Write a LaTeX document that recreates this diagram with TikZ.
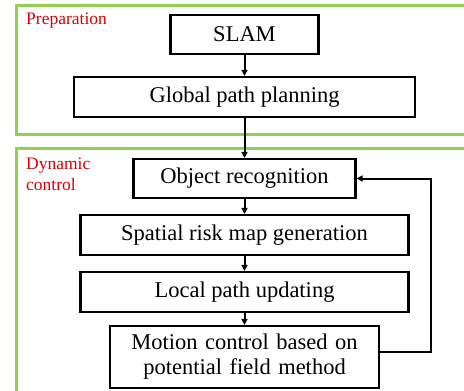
\documentclass[tikz,border=0pt]{standalone}
\usepackage{fontspec}
\setmainfont{Liberation Serif}
\usetikzlibrary{arrows.meta}
\definecolor{framegreen}{RGB}{146,208,80}
\definecolor{labelred}{RGB}{220,0,0}
\tikzset{
  stage/.style={draw=framegreen, line width=3pt},
  stagelabel/.style={text=labelred, font=\fontsize{17.5}{21}\selectfont, anchor=north west, inner sep=0pt, align=left},
  procbox/.style={draw=black, line width=2.2pt, fill=white, inner sep=0pt,
    font=\fontsize{22.5}{25}\selectfont, align=center},
  flow/.style={line width=2pt, -{Triangle[length=6pt,width=6pt]}}
}
\begin{document}
\begin{tikzpicture}[x=1pt,y=-1pt]
  \useasboundingbox (0,0) rectangle (464,391);
  \clip (0,0) rectangle (464,391);
  \fill[white] (0,0) rectangle (464,391);

  % stage frames
  \draw[stage] (16,5) rectangle (475,134);
  \draw[stage] (16,148) rectangle (475,392);
  \node[stagelabel] (prep) at (26,13) {Preparation};
  \node[stagelabel] (dyn) at (26,158) {Dynamic\\control};

  % process boxes
  \node[procbox, minimum width=148pt, minimum height=39pt] (slam) at (244.5,34.5) {SLAM};
  \node[procbox, minimum width=341pt, minimum height=40pt] (gpp) at (244.5,97) {Global path planning};
  \node[procbox, minimum width=222pt, minimum height=39pt] (obj) at (244.5,178.5) {Object recognition};
  \node[procbox, minimum width=328pt, minimum height=40pt] (risk) at (244.5,235) {Spatial risk map generation};
  \node[procbox, minimum width=328pt, minimum height=40pt] (lpu) at (244.5,292) {Local path updating};
  \node[procbox, minimum width=269pt, minimum height=62pt, text width=260pt] (motion) at (244.5,357)
    {Motion control based on\\potential field method};

  % flow arrows
  \draw[flow] (slam) -- (gpp);
  \draw[flow] (gpp) -- (obj);
  \draw[flow] (obj) -- (risk);
  \draw[flow] (risk) -- (lpu);
  \draw[flow] (lpu) -- (motion);

  % feedback loop
  \coordinate (loop) at (431,352);
  \draw[flow] ([yshift=5pt]motion.east) -- (loop) |- (obj.east);
\end{tikzpicture}
\end{document}
